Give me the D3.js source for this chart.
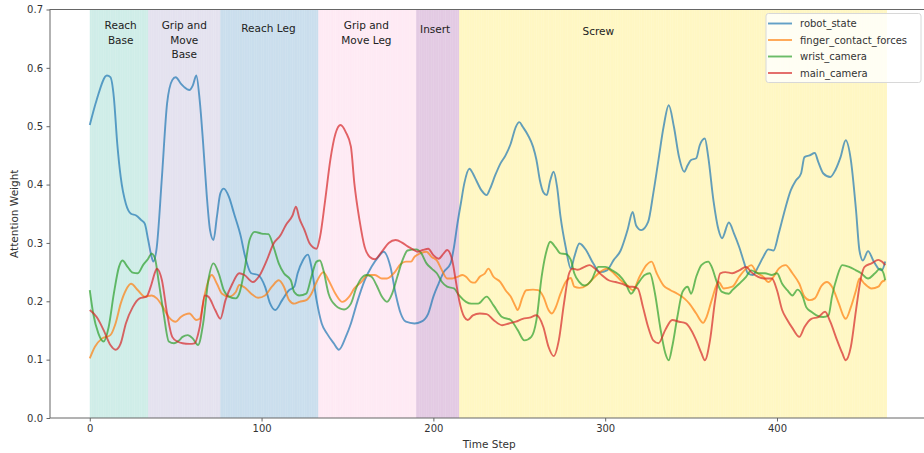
<!DOCTYPE html>
<html>
<head>
<meta charset="utf-8">
<script src="https://cdn.jsdelivr.net/npm/d3@7"></script>
<style>
  body { margin: 0; background: #fff; }
  svg { display: block; font-family: "DejaVu Sans", sans-serif; }
</style>
</head>
<body>
<svg id="chart" width="924" height="453"></svg>
<script>
// number of time steps in the episode
const stepCount = 464;

// task phases: [first step, end step)
const phaseNames = ["Reach\nBase", "Grip and\nMove\nBase", "Reach Leg", "Grip and\nMove Leg", "Insert", "Screw"];
const phaseStarts = [0, 34, 76, 133, 190, 215];
const phaseEnds = [34, 76, 133, 190, 215, 464];
const phaseLabelSteps = [18, 55, 104, 161, 201, 296];
const phaseColors = ["#8dd3c7", "#bebada", "#80b1d3", "#fccde5", "#bc80bd", "#ffed6f"];

const seriesNames = ["robot_state", "finger_contact_forces", "wrist_camera", "main_camera"];
const seriesColors = ["#1f77b4", "#ff7f0e", "#2ca02c", "#d62728"];

const yTicks = [0.0, 0.1, 0.2, 0.3, 0.4, 0.5, 0.6, 0.7];
const xTicks = [0, 100, 200, 300, 400];

// [time step, attention weight]
const robotState = [
  [0,0.502],[4,0.545],[10,0.587],[12,0.584],[14,0.55],[16,0.47],[18,0.413],[21,0.367],[24,0.35],[27,0.347],
  [30,0.339],[32,0.333],[34,0.305],[36,0.276],[37,0.268],[39,0.293],[42,0.413],[45,0.539],[48,0.579],[50,0.584],
  [53,0.573],[55,0.567],[58,0.562],[60,0.57],[62,0.587],[64,0.544],[66,0.47],[68,0.385],[70,0.322],[72,0.305],
  [74,0.345],[76,0.385],[78,0.393],[81,0.379],[84,0.35],[88,0.31],[90,0.282],[94,0.248],[98,0.245],[102,0.225],
  [105,0.196],[108,0.185],[112,0.202],[116,0.219],[119,0.225],[121,0.248],[124,0.27],[127,0.28],[129,0.259],[132,0.202],
  [135,0.162],[138,0.145],[142,0.128],[145,0.117],[149,0.139],[152,0.162],[156,0.202],[160,0.236],[164,0.259],[168,0.276],
  [171,0.285],[175,0.259],[178,0.213],[181,0.179],[184,0.165],[189,0.162],[193,0.165],[197,0.179],[200,0.208],[203,0.23],
  [206,0.25],[210,0.265],[212,0.293],[214,0.333],[216,0.368],[218,0.402],[221,0.427],[223,0.419],[225,0.407],[228,0.39],
  [231,0.382],[233,0.393],[236,0.416],[239,0.436],[242,0.45],[245,0.47],[248,0.499],[250,0.507],[252,0.499],[255,0.485],
  [258,0.465],[260,0.442],[262,0.407],[264,0.387],[266,0.382],[268,0.407],[270,0.422],[272,0.396],[274,0.345],[277,0.293],
  [280,0.256],[282,0.276],[285,0.299],[289,0.287],[293,0.265],[297,0.25],[301,0.253],[305,0.271],[309,0.287],[313,0.322],
  [316,0.353],[318,0.33],[321,0.322],[325,0.336],[328,0.385],[331,0.442],[334,0.499],[337,0.536],[340,0.499],[343,0.447],
  [346,0.422],[348,0.433],[350,0.442],[353,0.445],[355,0.467],[358,0.479],[360,0.447],[363,0.373],[366,0.322],[368,0.308],
  [372,0.335],[375,0.316],[378,0.293],[381,0.265],[383,0.248],[386,0.245],[389,0.259],[392,0.276],[395,0.289],[398,0.287],
  [401,0.316],[404,0.35],[408,0.39],[411,0.407],[414,0.419],[416,0.447],[419,0.45],[422,0.454],[424,0.439],[427,0.419],
  [431,0.413],[434,0.425],[437,0.447],[440,0.476],[443,0.442],[446,0.356],[448,0.287],[450,0.27],[453,0.286],[456,0.27],
  [459,0.256],[461,0.253],[463,0.268]
];

const fingerContactForces = [
  [0,0.102],[3,0.122],[7,0.136],[12,0.142],[15,0.162],[18,0.196],[21,0.219],[24,0.23],[28,0.219],[32,0.208],
  [36,0.21],[39,0.205],[42,0.193],[46,0.173],[50,0.165],[53,0.173],[58,0.179],[62,0.168],[64,0.17],[67,0.213],
  [71,0.245],[74,0.23],[77,0.213],[81,0.208],[85,0.216],[87,0.228],[90,0.224],[94,0.213],[98,0.206],[102,0.21],
  [106,0.225],[110,0.236],[113,0.225],[116,0.202],[119,0.196],[122,0.199],[126,0.202],[129,0.213],[132,0.233],[136,0.25],
  [139,0.236],[143,0.213],[147,0.199],[151,0.208],[154,0.222],[158,0.233],[162,0.245],[166,0.245],[170,0.239],[173,0.239],
  [177,0.248],[181,0.264],[184,0.268],[187,0.268],[189,0.276],[193,0.283],[196,0.285],[199,0.276],[202,0.27],[205,0.253],
  [208,0.239],[211,0.239],[214,0.242],[217,0.245],[219,0.242],[222,0.233],[224,0.232],[227,0.242],[230,0.248],[232,0.256],
  [235,0.242],[239,0.233],[242,0.219],[245,0.208],[248,0.19],[249,0.185],[252,0.208],[254,0.219],[258,0.22],[261,0.219],
  [264,0.208],[267,0.185],[269,0.179],[271,0.188],[274,0.213],[277,0.233],[280,0.24],[282,0.225],[285,0.223],[289,0.227],
  [293,0.239],[297,0.25],[301,0.256],[305,0.248],[309,0.236],[313,0.227],[316,0.219],[320,0.242],[324,0.262],[327,0.268],
  [330,0.248],[334,0.227],[338,0.219],[342,0.213],[346,0.205],[349,0.196],[353,0.179],[357,0.163],[359,0.173],[362,0.202],
  [366,0.233],[369,0.222],[374,0.225],[378,0.242],[382,0.256],[385,0.262],[388,0.25],[392,0.242],[395,0.233],[398,0.242],
  [401,0.256],[405,0.262],[409,0.248],[413,0.23],[416,0.208],[419,0.202],[422,0.205],[426,0.227],[429,0.233],[432,0.225],
  [436,0.196],[439,0.173],[440,0.17],[443,0.19],[446,0.219],[448,0.239],[451,0.23],[455,0.222],[459,0.225],[461,0.233],
  [463,0.236]
];

const wristCamera = [
  [0,0.219],[2,0.179],[5,0.145],[8,0.131],[11,0.156],[14,0.213],[17,0.259],[19,0.27],[22,0.259],[25,0.249],
  [28,0.248],[31,0.262],[34,0.273],[36,0.282],[38,0.273],[40,0.236],[43,0.179],[46,0.131],[49,0.128],[52,0.133],
  [54,0.139],[57,0.142],[60,0.136],[63,0.125],[66,0.162],[69,0.236],[72,0.265],[75,0.248],[78,0.219],[81,0.208],
  [85,0.205],[87,0.213],[90,0.253],[93,0.305],[96,0.319],[100,0.316],[104,0.315],[107,0.293],[110,0.265],[113,0.248],
  [117,0.236],[119,0.216],[122,0.21],[126,0.213],[129,0.242],[132,0.268],[134,0.27],[136,0.253],[139,0.213],[143,0.193],
  [148,0.186],[152,0.196],[155,0.222],[158,0.239],[161,0.245],[164,0.242],[167,0.227],[170,0.208],[173,0.199],[176,0.213],
  [179,0.242],[182,0.27],[185,0.287],[190,0.289],[193,0.282],[196,0.265],[199,0.256],[202,0.248],[205,0.233],[208,0.225],
  [212,0.222],[215,0.21],[219,0.199],[222,0.196],[226,0.196],[231,0.208],[235,0.193],[240,0.173],[245,0.168],[249,0.151],
  [253,0.133],[257,0.139],[260,0.168],[263,0.242],[266,0.288],[268,0.302],[271,0.293],[274,0.282],[277,0.281],[280,0.271],
  [282,0.248],[285,0.233],[288,0.227],[292,0.236],[296,0.259],[300,0.259],[304,0.253],[308,0.245],[312,0.23],[315,0.213],
  [319,0.23],[323,0.245],[326,0.248],[329,0.213],[332,0.156],[335,0.111],[337,0.099],[339,0.122],[342,0.173],[345,0.216],
  [348,0.225],[350,0.213],[353,0.242],[356,0.262],[360,0.268],[362,0.259],[365,0.233],[368,0.216],[372,0.213],[374,0.219],
  [378,0.23],[382,0.242],[385,0.253],[389,0.248],[393,0.248],[397,0.245],[400,0.248],[403,0.23],[406,0.219],[409,0.21],
  [412,0.22],[415,0.208],[417,0.19],[420,0.182],[423,0.176],[427,0.173],[430,0.176],[432,0.208],[435,0.242],[438,0.262],
  [442,0.259],[446,0.253],[449,0.248],[453,0.239],[457,0.248],[460,0.256],[462,0.248],[463,0.236]
];

const mainCamera = [
  [0,0.185],[4,0.173],[8,0.151],[12,0.125],[15,0.117],[18,0.128],[21,0.162],[25,0.19],[29,0.205],[33,0.208],
  [36,0.23],[38,0.25],[39,0.256],[42,0.236],[45,0.179],[48,0.139],[51,0.131],[54,0.128],[58,0.127],[61,0.128],
  [64,0.156],[67,0.21],[69,0.208],[73,0.185],[76,0.17],[79,0.202],[83,0.23],[87,0.248],[90,0.245],[95,0.233],
  [99,0.245],[103,0.27],[107,0.299],[111,0.313],[114,0.33],[118,0.347],[120,0.362],[122,0.342],[125,0.322],[128,0.299],
  [132,0.29],[134,0.31],[137,0.373],[140,0.442],[143,0.487],[146,0.502],[149,0.49],[152,0.465],[154,0.402],[157,0.339],
  [160,0.293],[163,0.276],[166,0.272],[170,0.285],[174,0.3],[178,0.305],[182,0.3],[185,0.294],[188,0.289],[191,0.285],
  [194,0.288],[197,0.29],[200,0.279],[203,0.273],[206,0.282],[208,0.288],[211,0.27],[213,0.236],[215,0.202],[218,0.173],
  [220,0.168],[223,0.176],[227,0.179],[231,0.178],[235,0.168],[240,0.159],[244,0.162],[248,0.165],[252,0.17],[256,0.172],
  [260,0.176],[264,0.156],[267,0.122],[270,0.106],[273,0.133],[276,0.196],[279,0.248],[281,0.256],[284,0.254],[288,0.259],
  [291,0.262],[294,0.256],[298,0.245],[302,0.236],[306,0.233],[310,0.23],[314,0.225],[316,0.225],[319,0.222],[322,0.19],
  [325,0.156],[328,0.133],[331,0.128],[335,0.151],[339,0.168],[343,0.165],[347,0.162],[350,0.151],[353,0.133],[356,0.111],
  [358,0.099],[361,0.133],[364,0.202],[367,0.248],[370,0.25],[374,0.248],[378,0.253],[382,0.259],[385,0.25],[389,0.242],
  [393,0.239],[397,0.239],[400,0.219],[403,0.185],[406,0.168],[409,0.154],[413,0.139],[416,0.156],[420,0.17],[424,0.173],
  [428,0.182],[431,0.165],[435,0.133],[438,0.111],[440,0.099],[443,0.122],[446,0.185],[449,0.242],[451,0.259],[455,0.265],
  [459,0.271],[461,0.268],[463,0.262]
];

const seriesValues = [robotState, fingerContactForces, wristCamera, mainCamera];

const margin = { top: 9.5, right: -1, bottom: 35, left: 50 };
const width = 924 - margin.left - margin.right;
const height = 453 - margin.top - margin.bottom;

const svg = d3.select("#chart");
const chart = svg.append("g")
  .attr("transform", `translate(${margin.left},${margin.top})`);

// matplotlib-style 5% x margins
const pad = (stepCount - 1) * 0.05;
const xScale = d3.scaleLinear().domain([-pad, stepCount - 1 + pad]).range([0, width]);
const yScale = d3.scaleLinear().domain([0, 0.7]).range([height, 0]);

// phase backgrounds: one thin span per time step
phaseNames.forEach((name, i) => {
  const steps = d3.range(phaseStarts[i], phaseEnds[i]);
  chart.append("g")
    .selectAll("rect")
    .data(steps)
    .join("rect")
    .attr("x", d => xScale(d))
    .attr("y", 0)
    .attr("width", d => xScale(d + 1) - xScale(d))
    .attr("height", height)
    .attr("fill", phaseColors[i])
    .attr("fill-opacity", 0.42);

  const label = chart.append("text")
    .attr("x", xScale(phaseLabelSteps[i]))
    .attr("text-anchor", "middle")
    .attr("font-size", "10.5px")
    .attr("fill", "#222");
  const lines = name.split("\n");
  const firstY = lines.length === 1 ? [19.5, 19.5, 18.5, 18.5, 19.5, 21][i] : 15.5;
  lines.forEach((ln, k) => {
    label.append("tspan")
      .attr("x", xScale(phaseLabelSteps[i]))
      .attr("y", firstY + k * 14.7 + 4)
      .text(ln);
  });
});

// lines
const line = d3.line()
  .x(d => xScale(d[0]))
  .y(d => yScale(d[1]))
  .curve(d3.curveMonotoneX);

seriesValues.forEach((vals, i) => {
  chart.append("path")
    .attr("d", line(vals))
    .attr("fill", "none")
    .attr("stroke", seriesColors[i])
    .attr("stroke-opacity", 0.7)
    .attr("stroke-width", 1.9)
    .attr("stroke-linejoin", "round");
});

// axes
const xAxis = d3.axisBottom(xScale).tickValues(xTicks).tickSize(3.5).tickPadding(3.5).tickSizeOuter(0);
const yAxis = d3.axisLeft(yScale).tickValues(yTicks).tickFormat(d3.format(".1f")).tickSize(3.5).tickPadding(3.5).tickSizeOuter(0);

const xAxisG = chart.append("g").attr("transform", `translate(0,${height})`).call(xAxis);
const yAxisG = chart.append("g").call(yAxis);

[xAxisG, yAxisG].forEach(g => {
  g.select(".domain").remove();
  g.selectAll(".tick line").attr("stroke", "#555").attr("stroke-width", 0.9);
  g.selectAll(".tick text").attr("font-size", "10px").attr("fill", "#333")
    .attr("font-family", "DejaVu Sans, sans-serif");
});

// spines
chart.append("rect")
  .attr("x", 0).attr("y", 0)
  .attr("width", width).attr("height", height)
  .attr("fill", "none")
  .attr("stroke", "#666")
  .attr("stroke-width", 1);

// axis labels
svg.append("text")
  .attr("x", margin.left + xScale(stepCount / 2 + 0.5) )
  .attr("y", 448)
  .attr("text-anchor", "middle")
  .attr("font-size", "10.5px")
  .attr("fill", "#333")
  .text("Time Step");

svg.append("text")
  .attr("transform", `translate(18,${margin.top + height / 2}) rotate(-90)`)
  .attr("text-anchor", "middle")
  .attr("font-size", "10.5px")
  .attr("fill", "#333")
  .text("Attention Weight");

// legend
const legend = svg.append("g").attr("transform", "translate(766,13.5)");
legend.append("rect")
  .attr("width", 155)
  .attr("height", 69)
  .attr("rx", 2.5)
  .attr("fill", "#fff")
  .attr("fill-opacity", 0.8)
  .attr("stroke", "#d8d8d8")
  .attr("stroke-width", 1);

seriesNames.forEach((name, i) => {
  const row = legend.append("g").attr("transform", `translate(0,${10 + i * 16.5})`);
  row.append("line")
    .attr("x1", 2).attr("x2", 26)
    .attr("stroke", seriesColors[i])
    .attr("stroke-opacity", 0.7)
    .attr("stroke-width", 1.9);
  row.append("text")
    .attr("x", 34)
    .attr("y", 3.6)
    .attr("font-size", "10px")
    .attr("fill", "#333")
    .text(name);
});
</script>
</body>
</html>
